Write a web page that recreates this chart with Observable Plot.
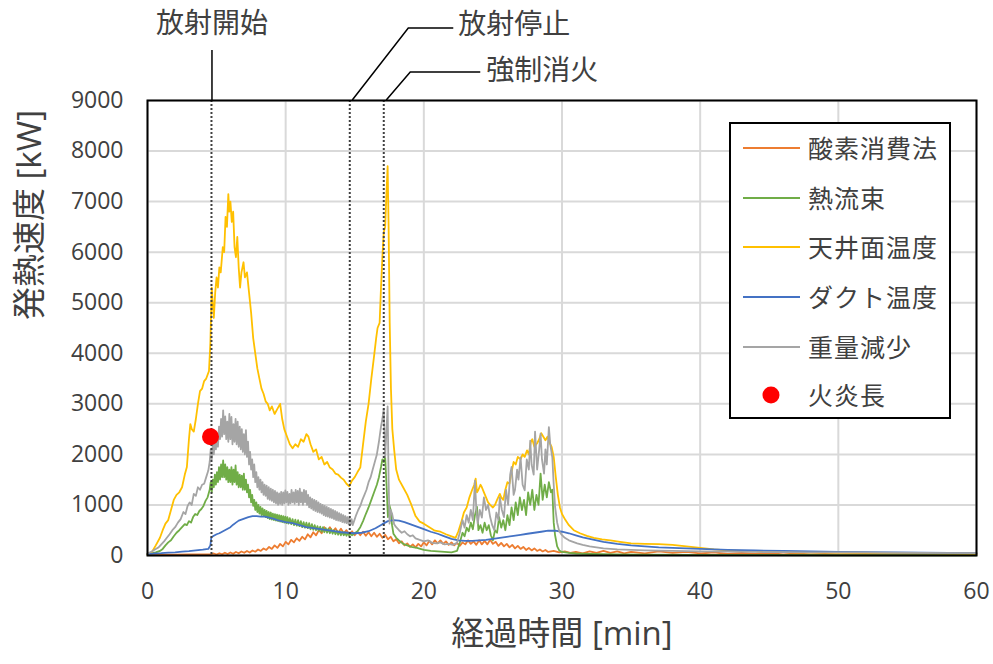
<!DOCTYPE html>
<html><head><meta charset="utf-8">
<script src="https://cdn.jsdelivr.net/npm/d3@7"></script>
<script src="https://cdn.jsdelivr.net/npm/@observablehq/plot@0.6"></script>
<style>
body{margin:0;background:#fff;}
#chart svg{display:block;}
</style></head><body><div id="chart"></div>
<script>
const seriesNames = ["酸素消費法","熱流束","天井面温度","ダクト温度","重量減少"];
const seriesColors = ["#ED7D31","#70AD47","#FFC000","#4472C4","#A5A5A5"];
const flameName = "火炎長";
const flameColor = "#FF0000";

// [minutes, kW]
const oxygen = [[0,10],[1,15],[2,15],[3,20],[4,20],[4.6,25],[4.8,40],[5.0,20],[5.2,45],[5.4,25],[5.6,55],[5.8,30],[6.0,60],[6.2,35],[6.4,70],[6.6,45],[6.8,80],[7.0,55],[7.2,90],[7.4,60],[7.6,100],[7.8,75],[8.0,120],[8.2,90],[8.4,140],[8.6,110],[8.8,170],[9.0,130],[9.2,200],[9.4,150],[9.6,230],[9.8,180],[10.0,270],[10.2,220],[10.4,310],[10.6,260],[10.8,340],[11.0,290],[11.2,370],[11.4,320],[11.6,420],[11.8,360],[12.0,460],[12.2,400],[12.4,500],[12.6,440],[12.8,560],[13.0,480],[13.2,560],[13.4,470],[13.6,540],[13.8,450],[14.0,530],[14.2,440],[14.4,500],[14.6,420],[14.8,480],[15.0,400],[15.2,470],[15.4,400],[15.6,470],[15.8,390],[16.0,460],[16.2,380],[16.4,450],[16.6,370],[16.8,430],[17.0,350],[17.2,410],[17.4,320],[17.6,370],[17.8,280],[18.0,320],[18.2,240],[18.4,280],[18.6,200],[18.8,240],[19.0,170],[19.2,220],[19.4,160],[19.6,230],[19.8,180],[20.0,260],[20.2,200],[20.4,290],[20.6,220],[20.8,300],[21.0,240],[21.2,300],[21.4,230],[21.6,280],[21.8,210],[22.0,260],[22.2,200],[22.4,250],[22.6,190],[22.8,260],[23.0,220],[23.2,300],[23.4,230],[23.6,280],[23.8,210],[24.0,300],[24.2,220],[24.4,290],[24.6,220],[24.8,310],[25.0,230],[25.2,270],[25.4,190],[25.6,250],[25.8,180],[26.0,230],[26.2,160],[26.4,210],[26.6,140],[26.8,190],[27.0,130],[27.2,170],[27.4,110],[27.6,150],[27.8,100],[28.0,140],[28.2,90],[28.4,120],[28.6,80],[28.8,110],[29.0,70],[29.4,90],[29.8,60],[30.2,80],[30.6,50],[31,70],[31.5,40],[32,80],[32.5,50],[33,90],[33.5,50],[34,80],[34.5,40],[35,70],[36,40],[37,80],[38,50],[39,70],[40,40],[41,60],[42,30],[43,50],[44,30],[45,50],[46,20],[47,40],[48,20],[49,30],[50,20],[52,30],[54,20],[56,25],[58,15],[60,20]];

const heatFlux = [[0,20],[0.3,40],[0.6,60],[0.9,90],[1.1,130],[1.3,200],[1.5,260],[1.7,300],[1.9,380],[2.1,450],[2.3,500],[2.5,560],[2.7,620],[2.85,600],[3.0,680],[3.15,650],[3.3,760],[3.45,820],[3.6,800],[3.75,880],[3.9,920],[4.05,980],[4.2,1080],[4.35,1150],[4.5,1300],[4.575,1450],[4.65,1250],[4.725,1500],[4.8,1350],[4.875,1600],[4.95,1400],[5.025,1650],[5.1,1450],[5.175,1750],[5.25,1500],[5.325,1800],[5.4,1550],[5.475,1880],[5.55,1550],[5.625,1800],[5.7,1500],[5.775,1750],[5.85,1450],[5.925,1700],[6.0,1450],[6.075,1750],[6.15,1400],[6.225,1700],[6.3,1450],[6.375,1780],[6.45,1400],[6.525,1650],[6.6,1350],[6.675,1600],[6.75,1350],[6.825,1580],[6.9,1300],[6.975,1620],[7.05,1300],[7.125,1500],[7.2,1250],[7.275,1400],[7.35,1150],[7.425,1300],[7.5,1050],[7.575,1200],[7.65,980],[7.725,1100],[7.8,900],[7.875,1050],[7.95,860],[8.025,1000],[8.1,830],[8.175,960],[8.25,800],[8.325,930],[8.4,780],[8.475,900],[8.55,760],[8.625,880],[8.7,740],[8.775,860],[8.85,720],[8.925,850],[9.0,710],[9.075,830],[9.15,700],[9.225,820],[9.3,690],[9.375,810],[9.45,680],[9.525,800],[9.6,670],[9.675,790],[9.75,660],[9.825,780],[9.9,650],[9.975,770],[10.05,640],[10.125,760],[10.2,630],[10.3,740],[10.4,620],[10.5,720],[10.6,600],[10.7,710],[10.8,590],[10.9,700],[11.0,580],[11.1,680],[11.2,560],[11.3,660],[11.4,550],[11.5,650],[11.6,540],[11.7,640],[11.8,520],[11.9,620],[12.0,510],[12.1,600],[12.2,500],[12.3,580],[12.4,490],[12.5,570],[12.6,470],[12.7,560],[12.8,460],[12.9,540],[13.0,450],[13.1,530],[13.2,440],[13.3,520],[13.4,430],[13.5,500],[13.6,420],[13.7,490],[13.8,410],[13.9,480],[14.0,400],[14.1,470],[14.2,400],[14.3,460],[14.4,390],[14.5,450],[14.6,390],[14.7,440],[14.8,400],[15.0,440],[15.2,480],[15.4,560],[15.6,680],[15.8,820],[16.0,950],[16.2,1100],[16.4,1250],[16.6,1400],[16.75,1550],[16.9,1750],[17.0,1900],[17.1,1850],[17.2,1950],[17.3,1400],[17.4,760],[17.5,1000],[17.6,900],[17.7,600],[17.8,430],[18.0,350],[18.2,300],[18.5,230],[18.8,200],[19.1,170],[19.5,150],[20.0,110],[20.5,90],[21.0,80],[21.5,70],[22.0,60],[22.4,90],[22.6,250],[22.8,450],[22.95,380],[23.1,550],[23.25,480],[23.4,650],[23.55,520],[23.7,800],[23.85,960],[23.95,500],[24.1,600],[24.25,450],[24.4,650],[24.55,500],[24.7,600],[24.85,400],[25.0,300],[25.15,500],[25.3,450],[25.45,760],[25.6,550],[25.75,700],[25.9,500],[26.05,800],[26.2,600],[26.35,950],[26.5,700],[26.65,1050],[26.8,800],[26.95,1150],[27.1,900],[27.25,1100],[27.4,800],[27.55,1250],[27.7,1000],[27.85,1300],[28.0,900],[28.15,1200],[28.3,1000],[28.45,1620],[28.6,1100],[28.75,1400],[28.9,1150],[29.05,1450],[29.2,1250],[29.3,1300],[29.4,650],[29.5,400],[29.65,180],[29.8,100],[30.0,70],[30.5,50],[31.0,40],[32,30],[34,20],[36,15],[40,10],[45,10],[50,5],[55,5],[60,5]];

const ceilingTemp = [[0,30],[0.3,60],[0.6,200],[0.9,350],[1.1,500],[1.3,630],[1.5,700],[1.7,900],[1.9,1100],[2.1,1200],[2.3,1250],[2.5,1350],[2.7,1600],[2.85,1750],[3.0,2300],[3.1,2600],[3.2,2500],[3.35,2450],[3.5,2700],[3.65,3000],[3.8,3250],[3.95,3300],[4.1,3450],[4.25,3500],[4.45,3650],[4.55,4200],[4.65,5300],[4.72,5000],[4.8,4700],[4.9,5200],[5.0,5500],[5.1,5300],[5.2,5700],[5.3,5600],[5.45,6100],[5.55,6000],[5.65,6700],[5.75,6500],[5.85,7150],[5.92,6800],[6.0,7000],[6.1,6600],[6.2,6800],[6.3,6100],[6.4,5900],[6.5,6300],[6.6,5700],[6.7,5300],[6.8,5600],[6.95,5800],[7.05,5500],[7.2,5600],[7.35,5200],[7.5,4800],[7.65,4300],[7.8,4000],[7.95,3700],[8.1,3500],[8.25,3300],[8.4,3200],[8.55,3050],[8.7,3000],[8.85,2870],[9.0,2950],[9.2,2800],[9.4,2900],[9.6,3000],[9.75,2700],[9.9,2500],[10.1,2350],[10.3,2200],[10.5,2120],[10.7,2200],[10.9,2150],[11.1,2300],[11.3,2250],[11.5,2400],[11.65,2350],[11.8,2200],[12.0,2050],[12.2,2100],[12.4,1900],[12.6,1950],[12.8,1800],[13.0,1850],[13.2,1740],[13.4,1700],[13.6,1620],[13.8,1600],[14.0,1540],[14.2,1500],[14.4,1420],[14.6,1370],[14.8,1480],[15.0,1550],[15.2,1650],[15.4,1740],[15.6,2200],[15.8,2650],[16.0,3000],[16.2,3500],[16.4,3950],[16.55,4300],[16.65,4500],[16.8,4600],[16.9,5300],[17.0,5900],[17.1,6400],[17.2,6500],[17.3,7200],[17.38,7700],[17.45,6500],[17.53,4600],[17.62,3300],[17.72,2500],[17.85,2100],[18.0,1700],[18.2,1500],[18.5,1350],[18.8,1200],[19.1,1000],[19.4,780],[19.7,670],[20.0,630],[20.4,560],[20.8,490],[21.2,470],[21.6,420],[22.0,380],[22.3,350],[22.5,480],[22.7,650],[22.9,850],[23.1,950],[23.3,1150],[23.5,1300],[23.65,1400],[23.75,1520],[23.85,1250],[23.95,1300],[24.1,1400],[24.2,1350],[24.35,1250],[24.5,1150],[24.65,1050],[24.8,1000],[25.0,950],[25.15,1000],[25.3,1100],[25.5,1220],[25.6,1150],[25.75,1100],[25.9,1300],[26.05,1450],[26.2,1420],[26.35,1650],[26.5,1850],[26.65,1800],[26.8,1950],[27.0,1900],[27.15,2000],[27.3,1950],[27.47,2080],[27.6,2000],[27.75,2250],[27.85,2300],[28.0,2150],[28.2,2220],[28.35,2300],[28.5,2420],[28.65,2350],[28.8,2280],[28.95,2350],[29.1,2230],[29.25,2150],[29.4,1950],[29.55,1550],[29.7,1200],[29.85,950],[30.0,820],[30.25,700],[30.5,600],[30.85,500],[31.3,440],[31.8,390],[32.3,350],[32.9,320],[33.5,300],[34.2,270],[35,240],[36,230],[37,225],[38,210],[39,180],[40,150],[41,120],[42,100],[43,90],[44,80],[45,70],[47,60],[50,55],[53,50],[56,45],[60,40]];

const ductTemp = [[0,30],[0.5,40],[1,45],[1.5,55],[2,60],[2.5,75],[3,85],[3.5,100],[4,115],[4.4,130],[4.55,200],[4.62,360],[4.8,390],[5.0,420],[5.2,440],[5.4,470],[5.6,500],[5.8,530],[6.0,560],[6.2,610],[6.4,650],[6.6,690],[6.8,710],[7.0,730],[7.3,760],[7.6,780],[7.9,780],[8.2,770],[8.5,770],[8.8,750],[9.1,730],[9.4,700],[9.7,680],[10.0,660],[10.5,640],[11.0,600],[11.5,560],[12.0,540],[12.5,520],[13.0,500],[13.5,480],[14.0,460],[14.5,450],[15.0,440],[15.5,450],[16.0,480],[16.5,540],[17.0,620],[17.4,680],[17.8,700],[18.2,690],[18.6,660],[19.0,620],[19.5,570],[20.0,520],[20.5,470],[21.0,430],[21.5,380],[22.0,330],[22.5,300],[23.0,290],[23.5,290],[24.0,300],[24.5,310],[25.0,330],[25.5,350],[26.0,370],[26.5,390],[27.0,410],[27.5,430],[28.0,450],[28.5,470],[29.0,490],[29.5,490],[30.0,470],[30.5,440],[31.0,400],[31.5,360],[32.0,330],[32.5,300],[33,270],[33.5,250],[34,230],[35,200],[36,180],[37,160],[38,150],[39,140],[40,130],[42,110],[44,100],[46,90],[48,80],[50,70],[52,65],[54,60],[56,55],[58,50],[60,45]];

const weightLoss = [[0,40],[0.3,80],[0.6,130],[0.8,160],[1.0,220],[1.2,280],[1.4,350],[1.6,420],[1.8,500],[2.0,560],[2.2,650],[2.4,720],[2.6,860],[2.75,820],[2.9,980],[3.05,1050],[3.2,1000],[3.35,1220],[3.5,1180],[3.65,1350],[3.8,1300],[3.95,1400],[4.1,1420],[4.25,1550],[4.4,1680],[4.5,1850],[4.575,2100],[4.65,1900],[4.725,2200],[4.8,2000],[4.875,2300],[4.95,2100],[5.025,2400],[5.1,2150],[5.175,2550],[5.25,2300],[5.325,2700],[5.4,2350],[5.475,2870],[5.55,2400],[5.625,2750],[5.7,2300],[5.775,2650],[5.85,2250],[5.925,2800],[6.0,2300],[6.075,2740],[6.15,2200],[6.225,2600],[6.3,2250],[6.375,2700],[6.45,2200],[6.525,2650],[6.6,2150],[6.675,2550],[6.75,2100],[6.825,2500],[6.9,2050],[6.975,2400],[7.05,2000],[7.125,2480],[7.2,1950],[7.275,2250],[7.35,1800],[7.425,2050],[7.5,1700],[7.575,1900],[7.65,1550],[7.725,1800],[7.8,1450],[7.875,1650],[7.95,1350],[8.025,1550],[8.1,1300],[8.175,1500],[8.25,1250],[8.325,1450],[8.4,1200],[8.475,1400],[8.55,1180],[8.625,1380],[8.7,1120],[8.775,1350],[8.85,1100],[8.925,1320],[9.0,1080],[9.075,1300],[9.15,1050],[9.225,1280],[9.3,1030],[9.375,1250],[9.45,1000],[9.525,1230],[9.6,1020],[9.675,1260],[9.75,1000],[9.825,1250],[9.9,1030],[9.975,1290],[10.05,1050],[10.125,1260],[10.2,1000],[10.275,1220],[10.35,1030],[10.425,1300],[10.5,1050],[10.575,1250],[10.65,1020],[10.725,1300],[10.8,1050],[10.875,1280],[10.95,1000],[11.025,1320],[11.1,1050],[11.175,1250],[11.25,1000],[11.325,1300],[11.4,1050],[11.475,1280],[11.55,1000],[11.625,1200],[11.7,950],[11.775,1150],[11.85,930],[11.925,1120],[12.0,900],[12.075,1100],[12.15,880],[12.225,1080],[12.3,860],[12.375,1050],[12.45,850],[12.525,1020],[12.6,830],[12.675,1000],[12.75,800],[12.825,980],[12.9,780],[12.975,960],[13.05,770],[13.125,940],[13.2,750],[13.275,920],[13.35,740],[13.425,900],[13.5,720],[13.575,880],[13.65,700],[13.725,860],[13.8,690],[13.875,840],[13.95,680],[14.025,820],[14.1,660],[14.175,800],[14.25,650],[14.325,780],[14.4,640],[14.475,760],[14.55,620],[14.625,740],[14.7,620],[14.775,720],[14.85,600],[14.95,680],[15.1,800],[15.25,900],[15.4,980],[15.55,1100],[15.7,1200],[15.85,1300],[16.0,1450],[16.15,1550],[16.3,1700],[16.45,1850],[16.6,2000],[16.75,2250],[16.9,2550],[17.0,2700],[17.1,2900],[17.2,1950],[17.3,2500],[17.38,2950],[17.45,1500],[17.52,630],[17.6,900],[17.7,830],[17.85,620],[18.0,560],[18.2,500],[18.4,450],[18.6,480],[18.8,420],[19.0,380],[19.2,400],[19.4,340],[19.6,320],[19.8,300],[20.0,280],[20.3,300],[20.6,250],[20.9,240],[21.2,260],[21.5,220],[21.8,230],[22.1,210],[22.4,250],[22.6,450],[22.8,700],[22.95,550],[23.1,800],[23.25,650],[23.4,900],[23.55,700],[23.7,1480],[23.8,900],[23.9,630],[24.05,900],[24.2,750],[24.35,1150],[24.5,900],[24.65,1000],[24.8,760],[24.95,600],[25.1,500],[25.25,850],[25.4,700],[25.5,1150],[25.65,900],[25.8,760],[25.95,1300],[26.1,1000],[26.25,1600],[26.35,1750],[26.5,1200],[26.6,1300],[26.75,1700],[26.85,1500],[27.0,1940],[27.15,1400],[27.3,1290],[27.45,1900],[27.6,1700],[27.7,2270],[27.8,1800],[27.95,1600],[28.05,2450],[28.2,1700],[28.35,2100],[28.45,2410],[28.55,1900],[28.7,1620],[28.8,2100],[28.9,1800],[29.05,2540],[29.15,2200],[29.3,1940],[29.4,1400],[29.5,960],[29.65,650],[29.8,480],[29.95,420],[30.2,350],[30.5,300],[30.8,270],[31.1,240],[31.5,210],[32.0,180],[32.5,160],[33.0,140],[33.5,130],[34,120],[35,110],[36,100],[38,90],[40,80],[42,75],[44,70],[46,65],[48,60],[50,60],[53,55],[56,50],[60,45]];

const flamePoints = [[4.56, 2350]];

const eventTimes = [4.63, 14.64, 17.1];
const eventLabels = ["放射開始", "放射停止", "強制消火"];

const xTicks = [0,10,20,30,40,50,60];
const yTicks = [0,1000,2000,3000,4000,5000,6000,7000,8000,9000];
const xTitle = "経過時間 [min]";
const yTitle = "発熱速度 [kW]";

const FONT = "'Open Sans','Noto Sans CJK JP',sans-serif";
const TEXT = "#404040";
const allSeries = [oxygen, heatFlux, ceilingTemp, ductTemp, weightLoss];

const plot = Plot.plot({
  width: 993, height: 664,
  marginLeft: 147, marginRight: 17, marginTop: 100, marginBottom: 109,
  style: {fontFamily: FONT, color: TEXT, background: "#fff"},
  x: {domain: [0, 60], label: null},
  y: {domain: [0, 9000], label: null},
  marks: [
    Plot.ruleX(xTicks, {stroke: "#d9d9d9", strokeWidth: 2}),
    Plot.ruleY(yTicks, {stroke: "#d9d9d9", strokeWidth: 2}),
    ...allSeries.map((s, i) => Plot.line(s, {x: d => d[0], y: d => d[1], stroke: seriesColors[i], strokeWidth: 1.8})),
    Plot.ruleX(eventTimes, {stroke: "#404040", strokeWidth: 2, strokeDasharray: "2,2"}),
    Plot.dot(flamePoints, {x: d => d[0], y: d => d[1], r: 8.5, fill: flameColor, stroke: "none"}),
    Plot.frame({stroke: "#000", strokeWidth: 2}),
    Plot.axisX({ticks: xTicks, tickSize: 0, tickPadding: 27, fontSize: 23, label: null, tickFormat: "d"}),
    Plot.axisY({ticks: yTicks, tickSize: 0, tickPadding: 24, fontSize: 23, label: null, tickFormat: "d"}),
    Plot.text([xTitle], {text: d => d, frameAnchor: "bottom", dy: 79, fontSize: 33, lineAnchor: "middle"}),
    Plot.text([yTitle], {text: d => d, frameAnchor: "left", dx: -117, dy: -8, rotate: -90, fontSize: 33, lineAnchor: "middle"})
  ]
});

document.getElementById("chart").appendChild(plot);

// annotations above the frame, positioned with the plot's own x scale
const sx = plot.scale("x");
const svg = d3.select(plot);
const frameTop = 100;
const ann = svg.append("g").attr("fill", "none").attr("stroke", "#000").attr("stroke-width", 1.5);
const annText = svg.append("g").attr("font-family", FONT).attr("font-size", 28).attr("fill", TEXT);
const annLayout = [
  {dx: 1, up: 50, run: 0, textY: 22},
  {dx: 3, up: 72, run: 56, hor: 45, textDx: 5, textY: 23},
  {dx: 3, up: 28, run: 24, hor: 70, textDx: 6, textY: 69}
];
eventTimes.forEach((t, i) => {
  const L = annLayout[i];
  const x0 = sx.apply(t) + L.dx;
  if (L.run === 0) {
    ann.append("path").attr("d", `M${x0},${frameTop}V${frameTop - L.up}`);
    annText.append("text").attr("x", x0).attr("y", L.textY).attr("text-anchor", "middle").attr("dominant-baseline", "central").text(eventLabels[i]);
  } else {
    const ex = x0 + L.run, ey = frameTop - L.up;
    ann.append("path").attr("d", `M${x0},${frameTop}L${ex},${ey}H${ex + L.hor}`);
    annText.append("text").attr("x", ex + L.hor + L.textDx).attr("y", L.textY).attr("text-anchor", "start").attr("dominant-baseline", "central").text(eventLabels[i]);
  }
});

// legend
const lg = svg.append("g").attr("text-anchor", "start");
lg.append("rect").attr("x", 730).attr("y", 123).attr("width", 220).attr("height", 295)
  .attr("fill", "#fff").attr("stroke", "#000").attr("stroke-width", 2);
const rowY = [148, 198, 247, 297, 347, 395];
seriesNames.forEach((name, i) => {
  lg.append("line").attr("x1", 743).attr("x2", 800).attr("y1", rowY[i]).attr("y2", rowY[i])
    .attr("stroke", seriesColors[i]).attr("stroke-width", 2);
  lg.append("text").attr("x", 808).attr("y", rowY[i]).attr("dominant-baseline", "central").attr("text-anchor", "start")
    .attr("font-family", FONT).attr("font-size", 25).attr("letter-spacing", 1).attr("fill", TEXT).text(name);
});
lg.append("circle").attr("cx", 771).attr("cy", rowY[5]).attr("r", 8.5).attr("fill", flameColor);
lg.append("text").attr("x", 808).attr("y", rowY[5]).attr("dominant-baseline", "central").attr("text-anchor", "start")
  .attr("font-family", FONT).attr("font-size", 25).attr("letter-spacing", 1).attr("fill", TEXT).text(flameName);
</script></body></html>
